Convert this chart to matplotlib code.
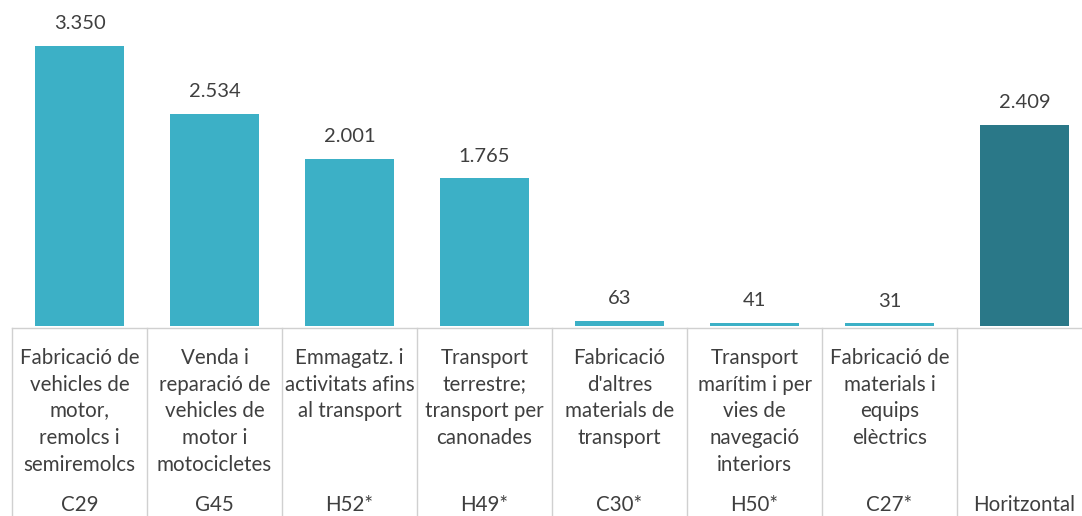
import matplotlib
matplotlib.use("Agg")
import matplotlib.pyplot as plt
from matplotlib.lines import Line2D
import matplotlib.transforms as mtransforms

codes = ["C29", "G45", "H52*", "H49*", "C30*", "H50*", "C27*", "Horitzontal"]
labels = [
    "Fabricació de\nvehicles de\nmotor,\nremolcs i\nsemiremolcs",
    "Venda i\nreparació de\nvehicles de\nmotor i\nmotocicletes",
    "Emmagatz. i\nactivitats afins\nal transport",
    "Transport\nterrestre;\ntransport per\ncanonades",
    "Fabricació\nd'altres\nmaterials de\ntransport",
    "Transport\nmarítim i per\nvies de\nnavegació\ninteriors",
    "Fabricació de\nmaterials i\nequips\nelèctrics",
    "",
]
values = [3350, 2534, 2001, 1765, 63, 41, 31, 2409]
colors = ["#3cb0c6"] * 7 + ["#2a7888"]

plt.rcParams['font.family'] = ['Lato', 'DejaVu Sans']
W, H = 1082, 516
fig = plt.figure(figsize=(W / 100, H / 100), dpi=100)
ax = fig.add_axes([0, (H - 326) / H, 1, 326 / H])
x = list(range(len(values)))
ax.bar(x, values, width=0.66, color=colors, zorder=2)
ax.set_xlim((0 - 12) / 135 - 0.5, (W - 12) / 135 - 0.5)
ax.set_ylim(0, 3900)
ax.axis('off')

txtc = "#3f3f3f"
for xi, v in zip(x, values):
    s = f"{v:,}".replace(",", ".")
    ax.annotate(s, (xi, v), xytext=(0, 16), textcoords='offset points',
                ha='center', va='center', fontsize=14.5, color=txtc)

# table grid below the bars
trans = mtransforms.blended_transform_factory(ax.transData, fig.transFigure)
ylinef = 1 - 328 / H
gridc = "#d0d0d0"
fig.add_artist(Line2D([12 / W, 1], [ylinef, ylinef], color=gridc, lw=1.0,
                      transform=fig.transFigure))
for k in range(len(values)):
    fig.add_artist(Line2D([k - 0.5, k - 0.5], [0, ylinef], color=gridc, lw=1.0,
                          transform=trans))

for xi, lab, code in zip(x, labels, codes):
    if lab:
        fig.text(xi, 1 - 348 / H, lab, transform=trans, ha='center', va='top',
                 fontsize=14.8, color=txtc, linespacing=1.42)
    fig.text(xi, 1 - 505 / H, code, transform=trans, ha='center', va='center',
             fontsize=14.8, color=txtc)

fig.savefig("out.png", dpi=100)
